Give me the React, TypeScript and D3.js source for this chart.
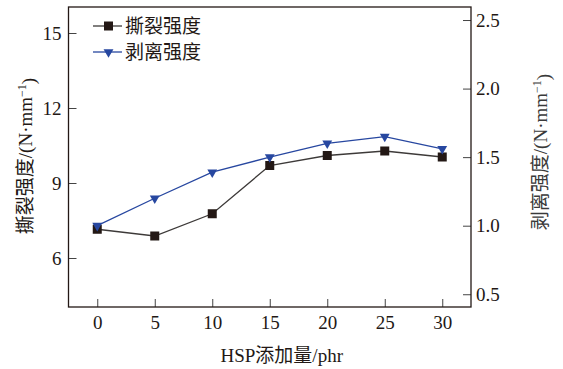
import React, { useEffect, useRef } from 'react';
import * as d3 from 'd3';

// 数据
const hspAmount = [0, 5, 10, 15, 20, 25, 30];
const tearStrength = [7.15, 6.88, 7.77, 9.7, 10.1, 10.28, 10.04];
const peelStrength = [1.0, 1.2, 1.39, 1.5, 1.6, 1.65, 1.56];
const leftTicks = [6, 9, 12, 15];
const rightTicks = [0.5, 1.0, 1.5, 2.0, 2.5];
const seriesNames = ['撕裂强度', '剥离强度'];

const W = 563;
const H = 369;
const FONT = '"Liberation Serif", "Times New Roman", "Noto Sans CJK SC", serif';

const App: React.FC = () => {
  const ref = useRef<SVGSVGElement>(null);

  useEffect(() => {
    const svg = d3.select(ref.current);
    svg.selectAll('*').remove();

    const left = 68.5, right = 471, top = 7, bottom = 307;

    const x = d3.scaleLinear().domain([-2.5, 32.5]).range([left, right]);
    const yL = d3.scaleLinear().domain([4.04, 16.04]).range([bottom, top]);
    const yR = d3.scaleLinear().domain([0.407, 2.595]).range([bottom, top]);

    const ink = '#231815';
    const blue = '#2747a0';

    // 坐标轴（刻度朝内）
    const xAxis = d3.axisBottom(x).tickValues(hspAmount).tickSize(-8).tickPadding(9).tickFormat(d3.format('d'));
    const gx = svg.append('g').attr('transform', `translate(0,${bottom})`).call(xAxis);

    const lAxis = d3.axisLeft(yL).tickValues(leftTicks).tickSize(-8).tickPadding(7).tickFormat(d3.format('d'));
    const gl = svg.append('g').attr('transform', `translate(${left},0)`).call(lAxis);

    const rAxis = d3.axisRight(yR).tickValues(rightTicks).tickSize(-8).tickPadding(5).tickFormat(d3.format('.1f'));
    const gr = svg.append('g').attr('transform', `translate(${right},0)`).call(rAxis);

    [gx, gl, gr].forEach(g => {
      g.select('.domain').remove();
      g.selectAll('line').attr('stroke', '#444').attr('stroke-width', 1);
      g.selectAll('text')
        .attr('fill', ink)
        .style('font-family', FONT)
        .style('font-size', '19px');
    });
    gx.selectAll('text').attr('dy', '0.71em');

    // 边框
    svg.append('rect')
      .attr('x', left).attr('y', top)
      .attr('width', right - left).attr('height', bottom - top)
      .attr('fill', 'none').attr('stroke', ink).attr('stroke-width', 1.3);

    // 撕裂强度
    const tearLine = d3.line<number>().x((_, i) => x(hspAmount[i])).y(d => yL(d));
    svg.append('path').datum(tearStrength)
      .attr('d', tearLine).attr('fill', 'none').attr('stroke', '#3d3a39').attr('stroke-width', 1.3);
    svg.selectAll('.sq').data(tearStrength).enter().append('rect')
      .attr('x', (_, i) => x(hspAmount[i]) - 4.5)
      .attr('y', d => yL(d) - 4.5)
      .attr('width', 9).attr('height', 9).attr('fill', ink);

    // 剥离强度
    const peelLine = d3.line<number>().x((_, i) => x(hspAmount[i])).y(d => yR(d));
    svg.append('path').datum(peelStrength)
      .attr('d', peelLine).attr('fill', 'none').attr('stroke', blue).attr('stroke-width', 1.3);
    const tri = d3.symbol().type(d3.symbolTriangle).size(42);
    svg.selectAll('.tri').data(peelStrength).enter().append('path')
      .attr('d', tri)
      .attr('transform', (d, i) => `translate(${x(hspAmount[i])},${yR(d)}) rotate(180)`)
      .attr('fill', blue);

    // 图例
    const lg = svg.append('g');
    seriesNames.forEach((name, i) => {
      const cy = 26 + i * 26;
      lg.append('line').attr('x1', 93).attr('x2', 122).attr('y1', cy).attr('y2', cy)
        .attr('stroke', i === 0 ? '#3d3a39' : blue).attr('stroke-width', 1.3);
      if (i === 0) {
        lg.append('rect').attr('x', 104).attr('y', cy - 4.5).attr('width', 9).attr('height', 9).attr('fill', ink);
      } else {
        lg.append('path').attr('d', tri).attr('transform', `translate(108.5,${cy}) rotate(180)`).attr('fill', blue);
      }
      lg.append('text').attr('x', 125).attr('y', cy).attr('dy', '0.35em')
        .attr('fill', ink)
        .style('font-family', FONT).style('font-size', '19px')
        .text(name);
    });

    // 轴标题
    svg.append('text')
      .attr('x', (left + right) / 2 + 12).attr('y', 355).attr('dy', '0.35em')
      .attr('text-anchor', 'middle').attr('fill', ink)
      .style('font-family', FONT).style('font-size', '19px')
      .text('HSP添加量/phr');

    const yTitle = (cx: number, cy: number, label: string, color: string) => {
      const t = svg.append('text')
        .attr('transform', `translate(${cx},${cy}) rotate(-90)`)
        .attr('text-anchor', 'middle').attr('dy', '0.35em').attr('fill', color)
        .style('font-family', FONT).style('font-size', '19px');
      t.append('tspan').text(label + '/(N·mm');
      t.append('tspan').attr('dy', '-0.5em').style('font-size', '12px').text('−1');
      t.append('tspan').attr('dy', '0.5em').text(')');
    };
    yTitle(25, 156, '撕裂强度', ink);
    yTitle(540, 152, '剥离强度', '#3a3a3a');
  }, []);

  return (
    <svg
      ref={ref}
      width={W}
      height={H}
      style={{ position: 'absolute', left: 0, top: 0, background: '#fff' }}
    />
  );
};

export default App;
